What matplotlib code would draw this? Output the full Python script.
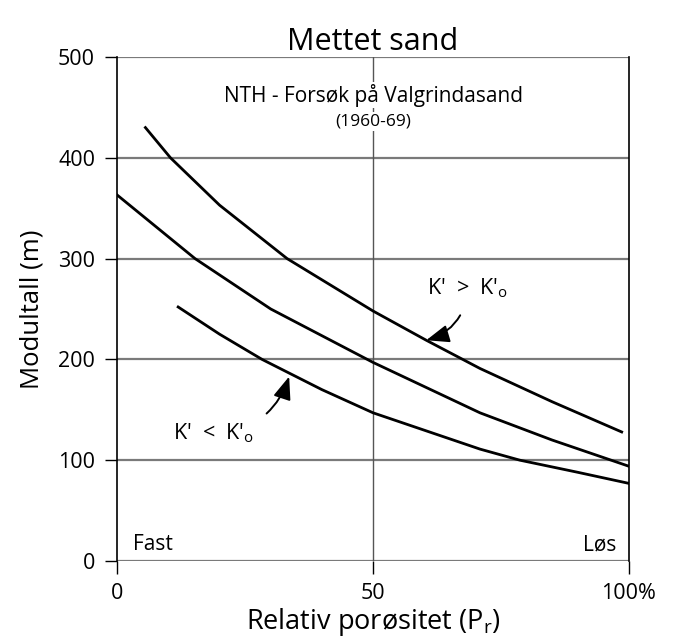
import matplotlib.pyplot as plt

plt.rcParams['font.family'] = ['Open Sans', 'DejaVu Sans']

# curves (x = relativ porøsitet %, y = modultall)
upper_x = [5.5, 10.4, 20, 33.2, 50, 60.4, 70.9, 85, 98.6]
upper_y = [430, 400, 353, 300, 248, 219, 191, 158, 128]
middle_x = [0, 15.2, 30, 50, 70.9, 85, 100]
middle_y = [363, 300, 250, 197, 147, 120, 94]
lower_x = [11.9, 20, 28.3, 40, 50, 70.9, 78.7, 90, 100]
lower_y = [252, 225, 200, 170, 147, 111, 100, 88, 77]

y_ticks = [0, 100, 200, 300, 400, 500]
x_ticks = [0, 50, 100]
x_labels = ['0', '50', '100%']

fig = plt.figure(figsize=(6.74, 6.42), dpi=100)
ax = fig.add_axes([0.174, 0.1262, 0.759, 0.785])

# grid
for v in y_ticks:
    ax.axhline(v, color='#7a7a7a', lw=1.6, zorder=1)
ax.axvline(50, color='#555555', lw=1.0, zorder=1)

ax.plot(upper_x, upper_y, color='black', lw=2, zorder=3)
ax.plot(middle_x, middle_y, color='black', lw=2, zorder=3)
ax.plot(lower_x, lower_y, color='black', lw=2, zorder=3)

ax.set_xlim(0, 100)
ax.set_ylim(0, 500)
ax.set_xticks(x_ticks)
ax.set_xticklabels(x_labels)
ax.set_yticks(y_ticks)
ax.tick_params(direction='out', length=9, width=1, colors='black', labelsize=15.5, pad=7)

for s in ['top', 'bottom']:
    ax.spines[s].set_visible(False)
for s in ['left', 'right']:
    ax.spines[s].set_color('black')
    ax.spines[s].set_linewidth(1.2)

ax.set_title('Mettet sand', fontsize=22, pad=5)
ax.set_ylabel('Modultall (m)', fontsize=18.5, labelpad=10)
ax.set_xlabel('Relativ porøsitet ($\\mathregular{P_r}$)', fontsize=19.5, labelpad=1)

ax.text(50, 462, 'NTH - Forsøk på Valgrindasand', ha='center', va='center', fontsize=15,
        bbox=dict(facecolor='white', edgecolor='none', pad=1), zorder=4)
ax.text(50, 436, '(1960-69)', ha='center', va='center', fontsize=12.5,
        bbox=dict(facecolor='white', edgecolor='none', pad=1), zorder=4)

ax.text(3, 16, 'Fast', ha='left', va='center', fontsize=15)
ax.text(97.5, 16, 'Løs', ha='right', va='center', fontsize=15)

ax.annotate("K'  >  K'$\\mathregular{_o}$", xy=(60.4, 219), xytext=(68.5, 271),
            ha='center', va='center', fontsize=15.5,
            arrowprops=dict(arrowstyle='-|>,head_length=0.9,head_width=0.35', color='black', lw=1.4,
                            connectionstyle='arc3,rad=-0.35', shrinkA=10, shrinkB=0))
ax.annotate("K'  <  K'$\\mathregular{_o}$", xy=(33.6, 183), xytext=(18.8, 127),
            ha='center', va='center', fontsize=15.5,
            arrowprops=dict(arrowstyle='-|>,head_length=0.9,head_width=0.35', color='black', lw=1.4,
                            connectionstyle='arc3,rad=0.35', shrinkA=9, shrinkB=0))

fig.savefig('out.png', dpi=100, facecolor='white')
